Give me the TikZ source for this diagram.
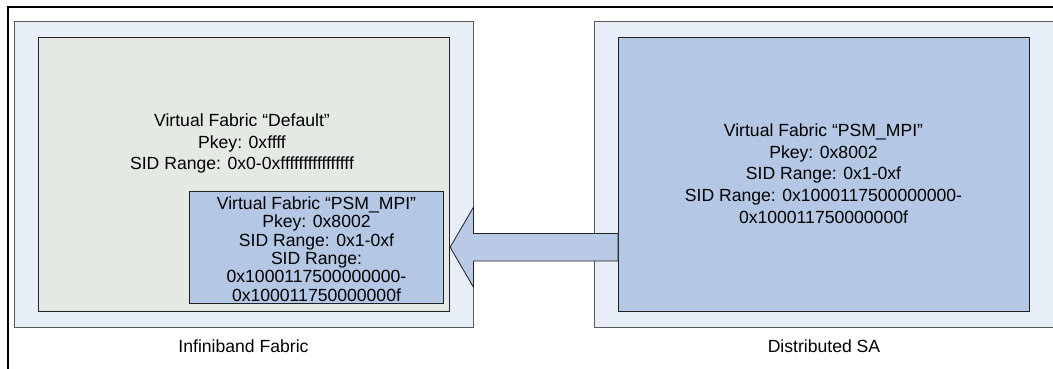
\documentclass[tikz,border=0pt]{standalone}
\usepackage{fontspec}
\setmainfont{Liberation Sans}
\usetikzlibrary{calc}
\definecolor{outerfill}{HTML}{E8EEF8}
\definecolor{grayfill}{HTML}{E4E9E4}
\definecolor{bluefill}{HTML}{B4C7E4}
\definecolor{arrowfill}{HTML}{B8CAE6}
\definecolor{outerline}{HTML}{5A5A5A}
\definecolor{innerline}{HTML}{222222}
\tikzset{
  outerbox/.style={draw=outerline, fill=outerfill, line width=0.9pt, minimum width=459pt, minimum height=306pt, inner sep=0pt},
  graybox/.style={draw=innerline, fill=grayfill, line width=0.9pt, inner sep=0pt},
  bluebox/.style={draw=innerline, fill=bluefill, line width=0.9pt, inner sep=0pt},
  txt/.style={align=center, font=\fontsize{17.6}{21.7}\selectfont, inner sep=0pt},
  smalltxt/.style={align=center, font=\fontsize{17.6}{18.3}\selectfont, inner sep=0pt},
  bigarrow/.style={draw=innerline, fill=arrowfill, line width=0.8pt, line join=miter},
}
\begin{document}
\begin{tikzpicture}[x=1pt,y=-1pt]
\useasboundingbox (0,0) rectangle (1053,368);
\clip (0,0) rectangle (1053,368);
\fill[white] (0,0) rectangle (1053,368);
% outer frame (extends beyond the picture)
\node[draw=black, line width=2.2pt, minimum width=1100pt, minimum height=420pt, inner sep=0pt, anchor=north west] (frame) at (6.6,5.6) {};
% left side
\node[outerbox] (lout) at (243.5,174) {};
\node[graybox, minimum width=411.4pt, minimum height=274pt] (lgray) at (244,174) {};
\node[txt] (ldef) at (242,143.5) {Virtual Fabric “Default”\\Pkey: 0xffff\\SID Range: 0x0-0xffffffffffffffff};
\node[bluebox, minimum width=254.4pt, minimum height=111.3pt] (lpsm) at (316.5,247.3) {};
\node[smalltxt] (lpsmtxt) at (316.5,249) {Virtual Fabric “PSM\_MPI”\\Pkey: 0x8002\\SID Range: 0x1-0xf\\SID Range:\\0x1000117500000000-\\0x100011750000000f};
\node[txt] (llab) at (243.5,346.5) {Infiniband Fabric};
% right side
\node[outerbox] (rout) at (824.2,174) {};
\node[bluebox, minimum width=410.8pt, minimum height=274pt] (rin) at (823.9,174) {};
\node[txt] (rtxt) at (823.5,173.5) {Virtual Fabric “PSM\_MPI”\\Pkey: 0x8002\\SID Range: 0x1-0xf\\SID Range: 0x1000117500000000-\\0x100011750000000f};
\node[txt] (rlab) at (824,346.5) {Distributed SA};
% arrow from right inner box to left gray box
\coordinate (tip) at ($(lgray.east)+(0,73.2)$);
\coordinate (shaftend) at ($(rin.west)+(0,73.2)$);
\draw[bigarrow] (tip) -- ++(23.3,-40) -- ++(0,26.3) -- ($(shaftend)+(0,-13.8)$) -- ($(shaftend)+(0,13.8)$) -- ($(tip)+(23.3,13.8)$) -- ++(0,26.2) -- cycle;
\end{tikzpicture}
\end{document}
